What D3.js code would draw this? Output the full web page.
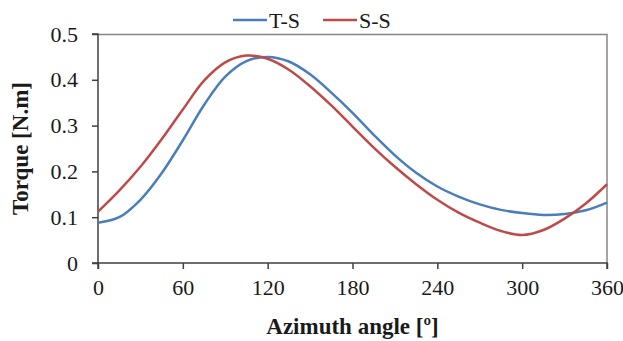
<!DOCTYPE html>
<html>
<head>
<meta charset="utf-8">
<script src="https://cdn.jsdelivr.net/npm/d3@7"></script>
<style>
  body { margin: 0; background: #fff; }
  svg text { font-family: "Liberation Serif", "Times New Roman", Times, serif; }
</style>
</head>
<body>
<div id="chart"></div>
<script>
// Azimuth angle (deg) and torque (N.m)
let angles = [0, 15, 30, 45, 60, 75, 90, 105, 120, 135, 150, 165, 180, 195, 210, 225, 240, 255, 270, 285, 300, 315, 330, 345, 360];
let tsTorque = [0.088, 0.100, 0.138, 0.196, 0.268, 0.345, 0.407, 0.441, 0.450, 0.440, 0.412, 0.372, 0.328, 0.280, 0.235, 0.197, 0.167, 0.145, 0.128, 0.116, 0.109, 0.105, 0.107, 0.115, 0.132];
let ssTorque = [0.112, 0.158, 0.210, 0.270, 0.335, 0.398, 0.438, 0.453, 0.446, 0.422, 0.386, 0.344, 0.298, 0.252, 0.210, 0.172, 0.138, 0.110, 0.088, 0.070, 0.061, 0.072, 0.097, 0.130, 0.172];

let xTicks = [0, 60, 120, 180, 240, 300, 360];
let yTicks = [0, 0.1, 0.2, 0.3, 0.4, 0.5];
let seriesNames = ["T-S", "S-S"];
let seriesColors = ["#4a7ebb", "#be4b48"];

let width = 623, height = 341;
let margin = {top: 34, right: 16, bottom: 78, left: 98};
let chartWidth = width - margin.left - margin.right;
let chartHeight = height - margin.top - margin.bottom;

let svg = d3.select("#chart").append("svg")
    .attr("width", width)
    .attr("height", height);

let chartGroup = svg.append("g")
    .attr("transform", `translate(${margin.left}, ${margin.top})`);

let xScale = d3.scaleLinear().domain([0, 360]).range([0, chartWidth]);
let yScale = d3.scaleLinear().domain([0, 0.5]).range([chartHeight, 0]);

// plot area border (top and right)
chartGroup.append("path")
    .attr("d", `M0,0.5H${chartWidth}V${chartHeight}`)
    .attr("fill", "none")
    .attr("stroke", "#868686")
    .attr("stroke-width", 1.5);

let xAxis = d3.axisBottom(xScale).tickValues(xTicks).tickSize(6).tickPadding(10).tickFormat(d3.format("d"));
let yAxis = d3.axisLeft(yScale).tickValues(yTicks).tickSize(6).tickPadding(14).tickFormat(d => d === 0 ? "0" : d3.format(".1f")(d));

let gx = chartGroup.append("g")
    .attr("transform", `translate(0, ${chartHeight})`)
    .call(xAxis);
let gy = chartGroup.append("g").call(yAxis);

[gx, gy].forEach(g => {
    g.attr("font-family", null);
    g.select(".domain").attr("stroke", "#404040").attr("stroke-width", 1.5);
    g.selectAll(".tick line").attr("stroke", "#404040").attr("stroke-width", 1.5);
    g.selectAll(".tick text")
        .attr("font-size", "22px")
        .attr("fill", "#1a1a1a");
});
gx.select(".domain").attr("d", `M0,6V0H${chartWidth}V6`);
gy.select(".domain").attr("d", `M-6,${chartHeight}H0V0H-6`);

// curves
let line = d3.line()
    .x(d => xScale(d[0]))
    .y(d => yScale(d[1]))
    .curve(d3.curveCatmullRom.alpha(0.5));

let seriesData = [
    d3.zip(angles, tsTorque),
    d3.zip(angles, ssTorque)
];

chartGroup.append("g").selectAll("path")
    .data(seriesData)
    .enter()
    .append("path")
    .attr("d", line)
    .attr("fill", "none")
    .attr("stroke", (d, i) => seriesColors[i])
    .attr("stroke-width", 2.5);

// axis titles
svg.append("text")
    .attr("x", margin.left + chartWidth / 2)
    .attr("y", 334)
    .attr("text-anchor", "middle")
    .attr("font-size", "23px")
    .attr("font-weight", "bold")
    .attr("fill", "#1a1a1a")
    .text("Azimuth angle [º]");

svg.append("text")
    .attr("transform", `translate(28, ${margin.top + chartHeight / 2}) rotate(-90)`)
    .attr("text-anchor", "middle")
    .attr("font-size", "23px")
    .attr("font-weight", "bold")
    .attr("fill", "#1a1a1a")
    .text("Torque [N.m]");

// legend
let legendX = [233, 323];
let legend = svg.append("g").selectAll("g")
    .data(seriesNames)
    .enter()
    .append("g")
    .attr("transform", (d, i) => `translate(${legendX[i]}, 20)`);

legend.append("line")
    .attr("x1", 0).attr("x2", 34)
    .attr("y1", 0).attr("y2", 0)
    .attr("stroke", (d, i) => seriesColors[i])
    .attr("stroke-width", 2.5);

legend.append("text")
    .attr("x", 36)
    .attr("y", 7.5)
    .attr("font-size", "22px")
    .attr("fill", "#1a1a1a")
    .text(d => d);
</script>
</body>
</html>
